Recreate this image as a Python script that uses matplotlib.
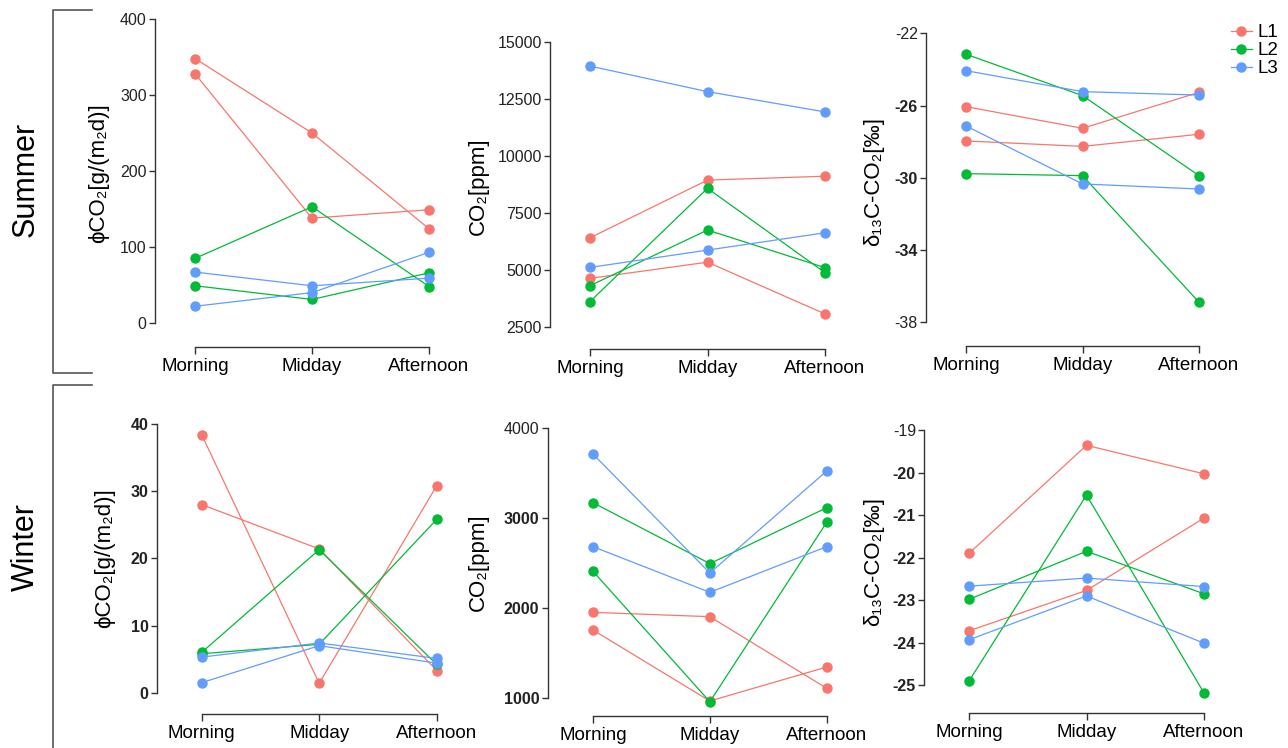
import matplotlib
matplotlib.use('Agg')
import matplotlib.pyplot as plt
from matplotlib.lines import Line2D

# ---- data ----
times = ['Morning', 'Midday', 'Afternoon']
sites = ['L1', 'L2', 'L3']
site_colors = ['#F8766D', '#00BA38', '#619CFF']

# Summer: CO2 flux [g/(m2 d)]
summer_flux = {
    'L1': [[348, 250, 124], [328, 138, 149]],
    'L2': [[85, 153, 48], [49, 31, 66]],
    'L3': [[67, 49, 59], [22, 40, 93]],
}
# Summer: CO2 concentration [ppm]
summer_co2 = {
    'L1': [[6400, 8930, 9100], [4620, 5330, 3060]],
    'L2': [[3600, 8570, 4870], [4300, 6740, 5090]],
    'L3': [[13930, 12810, 11920], [5100, 5860, 6620]],
}
# Summer: d13C-CO2 [permil]
summer_d13c = {
    'L1': [[-26.06, -27.26, -25.27], [-27.96, -28.26, -27.59]],
    'L2': [[-23.16, -25.45, -29.88], [-29.77, -29.88, -36.89]],
    'L3': [[-24.07, -25.23, -25.42], [-27.13, -30.34, -30.62]],
}
# Winter: CO2 flux
winter_flux = {
    'L1': [[38.4, 1.4, 30.8], [28.0, 21.4, 3.3]],
    'L2': [[6.0, 21.3, 4.2], [5.8, 7.2, 25.8]],
    'L3': [[5.3, 7.4, 5.1], [1.5, 7.0, 4.4]],
}
# Winter: CO2 concentration
winter_co2 = {
    'L1': [[1953, 1905, 1111], [1757, 970, 1347]],
    'L2': [[3169, 2493, 3113], [2408, 962, 2951]],
    'L3': [[3708, 2389, 3520], [2681, 2175, 2681]],
}
# Winter: d13C-CO2
winter_d13c = {
    'L1': [[-21.90, -19.36, -20.03], [-23.72, -22.77, -21.07]],
    'L2': [[-22.98, -21.85, -22.85], [-24.90, -20.53, -25.18]],
    'L3': [[-22.67, -22.48, -22.68], [-23.93, -22.90, -24.01]],
}

flux_label = 'ϕCO₂[g/(m₂d)]'
co2_label = 'CO₂[ppm]'
d13c_label = 'δ₁₃C-CO₂[‰]'

summer_flux_ticks = [0, 100, 200, 300, 400]
summer_co2_ticks = [2500, 5000, 7500, 10000, 12500, 15000]
summer_d13c_ticks = [-38, -34, -30, -26, -22]
winter_flux_ticks = [0, 10, 20, 30, 40]
winter_co2_ticks = [1000, 2000, 3000, 4000]
winter_d13c_ticks = [-25, -24, -23, -22, -21, -20, -19]

# ---- figure ----
W, H = 1288, 748
FONT = ['Liberation Sans', 'DejaVu Sans']
plt.rcParams['font.family'] = FONT
fig = plt.figure(figsize=(W / 100, H / 100), dpi=100)

AXIS_COLOR = '#333333'


def panel(data, ticks, bold, ylabel, spine_x, x_m, x_a, y_top, y_bot, spine_y, label_xy):
    ymin, ymax = ticks[0], ticks[-1]
    unit_x = (x_a - x_m) / 2
    unit_y = (y_bot - y_top) / (ymax - ymin)
    right_px = x_a + 14
    ax = fig.add_axes([spine_x / W, 1 - spine_y / H,
                       (right_px - spine_x) / W, (spine_y - y_top) / H])
    ax.set_xlim(-(x_m - spine_x) / unit_x, 2 + 14 / unit_x)
    ax.set_ylim(ymin - (spine_y - y_bot) / unit_y, ymax)
    ax.patch.set_visible(False)

    for site, col in zip(sites, site_colors):
        for series in data[site]:
            ax.plot(range(3), series, color=col, lw=0.9, marker='o',
                    markersize=6.5, clip_on=False)

    for s in ['top', 'right']:
        ax.spines[s].set_visible(False)
    ax.spines['left'].set_bounds(ymin, ymax)
    ax.spines['bottom'].set_bounds(0, 2)
    for s in ['left', 'bottom']:
        ax.spines[s].set_color(AXIS_COLOR)
        ax.spines[s].set_linewidth(1.0)

    ax.set_xticks(range(3))
    ax.set_xticklabels(times, fontsize=13.5)
    ax.set_yticks(ticks)
    ax.set_yticklabels([str(t) for t in ticks], fontsize=11.5, color='#222222')
    for lab, b in zip(ax.get_yticklabels(), bold):
        if b:
            lab.set_fontweight('bold')
    ax.tick_params(axis='x', length=5, width=1.0, color=AXIS_COLOR, pad=3)
    ax.tick_params(axis='y', length=4, width=1.0, color=AXIS_COLOR, pad=2)

    fig.text(label_xy[0] / W, 1 - label_xy[1] / H, ylabel, rotation=90,
             ha='center', va='center', fontsize=16)
    return ax


panel(summer_flux, summer_flux_ticks, [False] * 5, flux_label,
      155, 195, 429, 19, 323, 347, (99, 173))
panel(summer_co2, summer_co2_ticks, [False] * 6, co2_label,
      550, 590, 825, 41.7, 326.7, 349, (478, 186))
panel(summer_d13c, summer_d13c_ticks, [False, True, True, True, False], d13c_label,
      926, 966, 1199, 33.3, 322.3, 346, (874, 182))
panel(winter_flux, winter_flux_ticks, [True] * 5, flux_label,
      157, 201.7, 436.7, 424, 692.7, 714.3, (105, 558))
panel(winter_co2, winter_co2_ticks, [True, True, True, False], co2_label,
      547.7, 593, 826.7, 427.7, 698.3, 716, (478, 562))
panel(winter_d13c, winter_d13c_ticks, [True] * 6 + [False], d13c_label,
      924.3, 969, 1204, 430, 685.3, 712.7, (874, 561))

# legend
handles = [Line2D([0], [0], color=c, lw=0.9, marker='o', markersize=6.5)
           for c in site_colors]
fig.legend(handles, sites, loc='upper left',
           bbox_to_anchor=(1231 / W, 1 - 24 / H), frameon=False,
           fontsize=13.5, handlelength=1.1, handletextpad=0.3,
           labelspacing=0.05, borderaxespad=0, borderpad=0)

# season labels and brackets
fig.text(26 / W, 1 - 179 / H, 'Summer', rotation=90, ha='center', va='center', fontsize=22)
fig.text(26 / W, 1 - 547 / H, 'Winter', rotation=90, ha='center', va='center', fontsize=22)

BR_COLOR = '#555555'
def fline(xs, ys):
    fig.add_artist(Line2D([x / W for x in xs], [1 - y / H for y in ys],
                          color=BR_COLOR, lw=1.2))

fline([92, 53, 53, 92], [9.5, 9.5, 373, 373])
fline([92, 53, 53], [385, 385, 760])

fig.savefig('out.png', dpi=100)
